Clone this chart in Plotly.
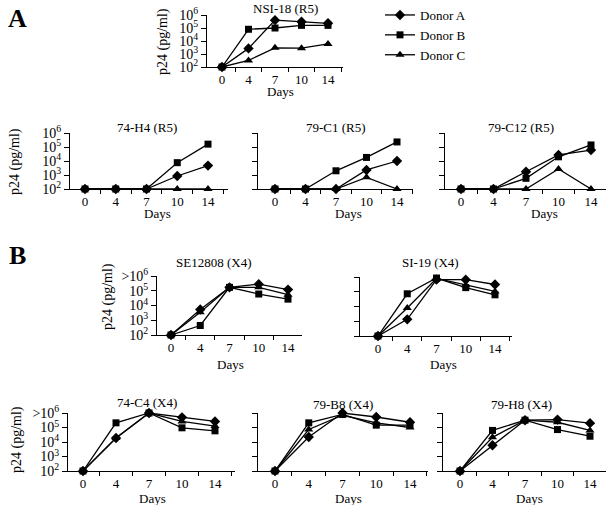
import plotly.graph_objects as go

# ---------------- data ----------------
days = ["0", "4", "7", "10", "14"]
donors = ["Donor A", "Donor B", "Donor C"]
y_tick_vals = [1e2, 1e3, 1e4, 1e5, 1e6]
y_ticks_r5 = ["10<sup>2</sup>", "10<sup>3</sup>", "10<sup>4</sup>", "10<sup>5</sup>", "10<sup>6</sup>"]
y_ticks_x4 = ["10<sup>2</sup>", "10<sup>3</sup>", "10<sup>4</sup>", "10<sup>5</sup>", "&gt;10<sup>6</sup>"]

nsi18_a = [100, 2700, 4.0e5, 3.0e5, 2.3e5]
nsi18_b = [100, 8.0e4, 1.0e5, 1.6e5, 1.6e5]
nsi18_c = [100, 320, 3000, 2800, 6000]

h4_a = [100, 100, 100, 850, 4700]
h4_b = [100, 100, 100, 7600, 1.6e5]
h4_c = [100, 100, 100, 100, 100]

c1_a = [100, 100, 100, 2300, 1.0e4]
c1_b = [100, 100, 2000, 1.8e4, 2.3e5]
c1_c = [100, 100, 100, 680, 100]

c12_a = [100, 100, 1700, 2.7e4, 6.0e4]
c12_b = [100, 100, 580, 2.0e4, 1.4e5]
c12_c = [100, 100, 100, 2700, 100]

se_a = [100, 5400, 1.7e5, 2.8e5, 1.2e5]
se_b = [100, 440, 1.7e5, 6.0e4, 2.7e4]
se_c = [100, 3500, 1.7e5, 1.7e5, 5.4e4]

si_a = [100, 1350, 6.6e5, 6.6e5, 3.1e5]
si_b = [100, 7.3e4, 8.5e5, 1.9e5, 6.2e4]
si_c = [100, 8000, 8.0e5, 2.8e5, 1.05e5]

c4_a = [100, 1.9e4, 1.0e6, 5.0e5, 2.6e5]
c4_b = [100, 2.1e5, 1.0e6, 9.5e4, 5.9e4]
c4_c = [100, 1.9e4, 1.0e6, 2.6e5, 1.25e5]

b8_a = [100, 2.2e4, 1.0e6, 5.3e5, 2.3e5]
b8_b = [100, 2.1e5, 8.0e5, 1.45e5, 1.45e5]
b8_c = [100, 7.3e4, 7.0e5, 2.1e5, 1.0e5]

h8_a = [100, 5900, 3.2e5, 3.5e5, 2.0e5]
h8_b = [100, 6.3e4, 3.2e5, 7.2e4, 2.5e4]
h8_c = [100, 2.1e4, 3.2e5, 2.3e5, 6.3e4]

panels = [
    ("NSI-18 (R5)", [nsi18_a, nsi18_b, nsi18_c], y_ticks_r5, True),
    ("74-H4 (R5)", [h4_a, h4_b, h4_c], y_ticks_r5, True),
    ("79-C1 (R5)", [c1_a, c1_b, c1_c], y_ticks_r5, False),
    ("79-C12 (R5)", [c12_a, c12_b, c12_c], y_ticks_r5, False),
    ("SE12808 (X4)", [se_a, se_b, se_c], y_ticks_x4, True),
    ("SI-19 (X4)", [si_a, si_b, si_c], y_ticks_x4, False),
    ("74-C4 (X4)", [c4_a, c4_b, c4_c], y_ticks_x4, True),
    ("79-B8 (X4)", [b8_a, b8_b, b8_c], y_ticks_x4, False),
    ("79-H8 (X4)", [h8_a, h8_b, h8_c], y_ticks_x4, False),
]

# ---------------- layout geometry (pixels) ----------------
W, H = 607, 505
# left, right, top, bottom, x of first category, x of last category
geom = [
    (207, 343, 15, 67, 222, 328),
    (70, 228, 133, 189, 85, 208),
    (258, 413, 133, 189, 275, 397),
    (445, 606, 133, 189, 461, 591),
    (157, 302, 276, 335, 171, 288),
    (360, 512, 277, 336, 378, 495),
    (68, 235, 413, 471, 83, 215),
    (258, 428, 413, 471, 275, 410),
    (443, 606, 413, 471, 460, 590),
]
title_pos = [(285, 8), (147, 127), (336, 127), (521, 127), (213, 262), (430, 262),
             (147, 402), (343, 404), (521, 404)]
days_pos = [(280, 92), (157, 214), (348, 214), (544, 214), (230, 364), (443, 364),
            (152, 498), (348, 498), (529, 498)]
ylab_pos = [(163, 42), (15, 162), None, None, (108, 297), None, (17, 440), None, None]

symbols = ["diamond", "square", "triangle-up"]
sizes = [8, 7, 8]
FONT = "Liberation Serif, Times New Roman, serif"
FS = 13

fig = go.Figure()
annotations = []

for i, (title, series, yticks, show_labels) in enumerate(panels):
    l, r, t, b, p0, p4 = geom[i]
    step = (p4 - p0) / 4.0
    xr = [(l - p0) / step, (r - p0) / step]
    sfx = "" if i == 0 else str(i + 1)
    xa, ya = "x" + sfx, "y" + sfx
    for k, vals in enumerate(series):
        fig.add_trace(go.Scatter(
            x=list(range(len(days))), y=vals, xaxis=xa, yaxis=ya,
            mode="lines+markers", name=donors[k], legendgroup=donors[k],
            showlegend=(i == 0), cliponaxis=False, hoverinfo="skip",
            line=dict(color="black", width=1.3),
            marker=dict(symbol=symbols[k], size=sizes[k], color="black"),
        ))
    fig.layout["xaxis" + sfx] = dict(
        domain=[l / W, r / W], anchor=ya, range=xr, automargin=False,
        tickmode="array", tickvals=list(range(len(days))), ticktext=days,
        ticks="", showline=True, linecolor="black", linewidth=1,
        showgrid=False, zeroline=False, fixedrange=True,
        tickfont=dict(family=FONT, size=FS, color="black"),
        minor=dict(tickmode="array", tickvals=[0.5, 1.5, 2.5, 3.5, 4.5],
                   ticks="outside", ticklen=4, tickcolor="black", tickwidth=1,
                   showgrid=False),
    )
    fig.layout["yaxis" + sfx] = dict(
        domain=[1 - b / H, 1 - t / H], anchor=xa, type="log", range=[2, 6],
        automargin=False,
        tickmode="array", tickvals=y_tick_vals, ticktext=yticks,
        showticklabels=show_labels, ticks="outside", ticklen=5,
        tickcolor="black", showline=True, linecolor="black", linewidth=1,
        showgrid=False, zeroline=False, fixedrange=True,
        tickfont=dict(family=FONT, size=FS + 1, color="black"),
    )
    tx, ty = title_pos[i]
    annotations.append(dict(text=title, x=tx / W, y=1 - ty / H, xref="paper", yref="paper",
                            showarrow=False, xanchor="center", yanchor="middle",
                            font=dict(family=FONT, size=FS, color="black")))
    dx, dy = days_pos[i]
    annotations.append(dict(text="Days", x=dx / W, y=1 - dy / H, xref="paper", yref="paper",
                            showarrow=False, xanchor="center", yanchor="middle",
                            font=dict(family=FONT, size=FS, color="black")))
    if ylab_pos[i] is not None:
        lx, ly = ylab_pos[i]
        annotations.append(dict(text="p24 (pg/ml)", x=lx / W, y=1 - ly / H,
                                xref="paper", yref="paper", textangle=-90,
                                showarrow=False, xanchor="center", yanchor="middle",
                                font=dict(family=FONT, size=14, color="black")))

for letter, (lx, ly) in [("A", (17, 18)), ("B", (17, 255))]:
    annotations.append(dict(text="<b>" + letter + "</b>", x=lx / W, y=1 - ly / H,
                            xref="paper", yref="paper", showarrow=False,
                            xanchor="center", yanchor="middle",
                            font=dict(family=FONT, size=26, color="black")))

fig.update_layout(
    width=W, height=H, margin=dict(l=0, r=0, t=0, b=0, autoexpand=False),
    paper_bgcolor="white", plot_bgcolor="white",
    annotations=annotations,
    showlegend=True, hovermode=False,
    legend=dict(x=380 / W, y=1.0, xanchor="left", yanchor="top",
                font=dict(family=FONT, size=FS, color="black"),
                bgcolor="rgba(0,0,0,0)", itemwidth=30, tracegroupgap=0),
)

fig.write_html("out.html", config={"displayModeBar": False},
               post_script="document.body.style.margin='0';document.body.style.overflow='hidden';")
